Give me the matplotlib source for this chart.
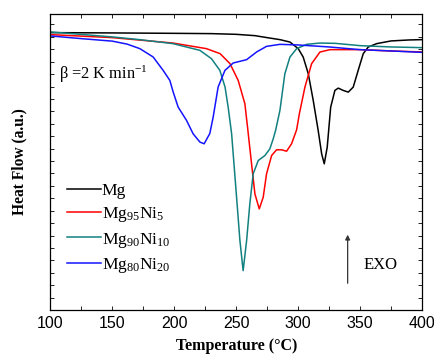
import numpy as np
import matplotlib
matplotlib.use("Agg")
import matplotlib.pyplot as plt
from matplotlib.ticker import MultipleLocator, NullFormatter

plt.rcParams['mathtext.fontset'] = 'custom'
plt.rcParams['mathtext.rm'] = 'Liberation Serif'
plt.rcParams['mathtext.it'] = 'Liberation Serif:italic'
plt.rcParams['mathtext.bf'] = 'Liberation Serif:bold'

# DSC curves (heat flow, arbitrary units)
T_mg = [100, 150, 200, 230, 250, 265, 275, 285.3, 293.4, 300.1, 304.1, 308.2, 312.2, 316.2,
        319.0, 321.1, 323.5, 326.3, 329.7, 332.4, 336.4, 340.5, 344.5, 348.5, 352.6, 356.6,
        363.4, 375, 390, 400]
hf_mg = [277.0, 276.7, 276.3, 276.0, 275.3, 274.0, 272.0, 270.0, 267.6, 261.0, 252.6, 236.0,
         209.3, 179.3, 156.0, 146.0, 162.6, 202.6, 219.3, 221.6, 219.3, 217.6, 222.6, 239.3,
         256.0, 262.6, 266.0, 268.7, 269.7, 270.0]

T_ni5 = [100, 150, 199, 226, 237, 245, 251.6, 257, 259.2, 262.4, 265.1, 268.6, 271.8, 274.5,
         278.6, 282.6, 286.7, 290.7, 294.7, 298.8, 301, 305.5, 310.9, 317.6, 325.7, 350, 375, 400]
hf_ni5 = [275.0, 272.0, 266.6, 261.0, 256.0, 246.0, 229.3, 206.0, 182.0, 146.0, 116.0, 101.0,
          112.6, 136.0, 154.3, 160.0, 160.0, 158.6, 166.0, 180.0, 196.0, 222.6, 246.0, 257.6,
          260.0, 260.0, 258.7, 257.7]

T_ni10 = [100, 150, 172, 199, 220.7, 230, 236.8, 241, 243.5, 246.3, 250.3, 253, 255.6, 258.4,
          261, 263.7, 267.8, 273.2, 277.2, 279.9, 281.8, 285.3, 289.3, 293.4, 298.8, 306.9,
          317.6, 330, 350, 375, 400]
hf_ni10 = [277.7, 272.7, 270.0, 266.0, 259.3, 251.0, 239.3, 222.6, 202.6, 176.0, 112.6, 69.3,
           39.3, 69.3, 106.0, 136.0, 149.3, 154.3, 161.0, 171.0, 179.3, 199.3, 236.0, 252.6,
           261.0, 265.3, 266.6, 266.3, 264.0, 262.7, 262.0]

T_ni20 = [100, 125, 150, 162, 172.2, 182.9, 191, 196.4, 199.1, 203.1, 209.9, 215.2, 220.7,
          224.1, 228.7, 231.4, 235.4, 240.9, 247.6, 258.4, 266.5, 274.5, 285.3, 300, 325, 350,
          375, 400]
hf_ni20 = [273.7, 271.0, 268.5, 265.5, 261.0, 252.7, 239.3, 229.3, 217.7, 202.7, 189.3, 176.0,
           167.7, 166.0, 176.3, 192.7, 222.7, 239.3, 246.7, 250.0, 257.7, 263.3, 265.3, 264.7,
           262.7, 260.0, 258.7, 257.3]

fig = plt.figure(figsize=(4.35, 3.58), dpi=100)
ax = fig.add_axes([0.116, 0.134, 0.854, 0.828])

ax.plot(T_mg, hf_mg, color='black', lw=1.1, label='Mg')
ax.plot(T_ni5, hf_ni5, color='#ff0000', lw=1.1, label='Mg$_{95}$Ni$_5$')
ax.plot(T_ni10, hf_ni10, color='#138080', lw=1.1, label='Mg$_{90}$Ni$_{10}$')
ax.plot(T_ni20, hf_ni20, color='#1414ff', lw=1.1, label='Mg$_{80}$Ni$_{20}$')

ax.set_xlim(100, 400)
ax.set_ylim(0, 296)
ax.xaxis.set_major_locator(MultipleLocator(50))
ax.xaxis.set_minor_locator(MultipleLocator(25))
ax.yaxis.set_major_locator(MultipleLocator(12.4))
ax.yaxis.set_major_formatter(NullFormatter())
ax.tick_params(axis='both', which='both', direction='in', top=True, right=True,
               length=3, width=0.6)
ax.tick_params(axis='x', which='major', labelsize=11.5, pad=4)
for lab in ax.get_xticklabels():
    lab.set_fontfamily('Liberation Sans')
for s in ax.spines.values():
    s.set_linewidth(0.9)

ax.set_xlabel('Temperature (\u00b0C)', fontfamily='Liberation Serif', fontweight='bold',
              fontsize=11.5, labelpad=5)
ax.set_ylabel('Heat Flow (a.u.)', fontfamily='Liberation Serif', fontweight='bold',
              fontsize=11.2, labelpad=13)

ax.text(107, 235, r'$\mathrm{\beta}$ =2 K min$^{-1}$', fontfamily='Liberation Serif', fontsize=11.8,
        va='center')

ax.annotate('', xy=(340, 78), xytext=(340, 24),
            arrowprops=dict(arrowstyle='-|>', color='#333333', lw=0.9, mutation_scale=7))
ax.text(353, 45, 'EXO', fontfamily='Liberation Serif', fontsize=12, va='center')

leg = ax.legend(loc='lower left', bbox_to_anchor=(0.025, 0.095), frameon=False,
                prop={'family': 'Liberation Serif', 'size': 12.6}, handlelength=1.95,
                handletextpad=0.05, labelspacing=0.36, borderaxespad=0)

fig.savefig('out.png', dpi=100)
